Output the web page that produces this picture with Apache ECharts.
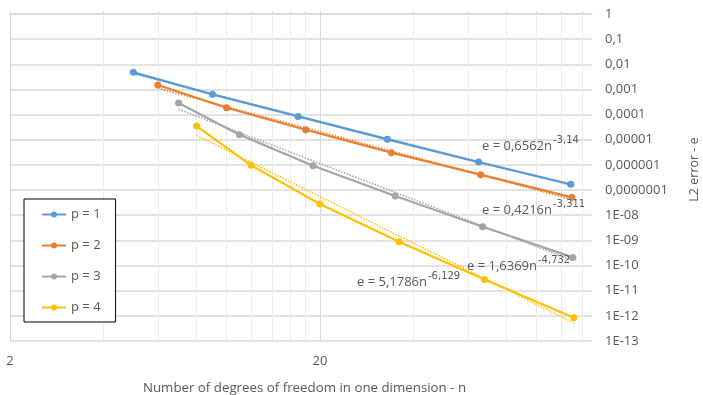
<!DOCTYPE html>
<html>
<head>
<meta charset="utf-8">
<script src="https://cdn.jsdelivr.net/npm/echarts@6/dist/echarts.min.js"></script>
<style>
  html, body { margin: 0; padding: 0; background: #fff; }
  #chart { width: 703px; height: 395px; }
</style>
</head>
<body>
<div id="chart"></div>
<script>
// Convergence of the L2 error against the number of degrees of freedom per dimension
const seriesNames = ['p = 1', 'p = 2', 'p = 3', 'p = 4'];
const colors = ['#5B9BD5', '#ED7D31', '#A5A5A5', '#FFC000'];

const nP1 = [5, 9, 17, 33, 65, 129];
const eP1 = [4.8e-3, 6.4e-4, 8.5e-5, 1.04e-5, 1.3e-6, 1.7e-7];
const nP2 = [6, 10, 18, 34, 66, 130];
const eP2 = [1.5e-3, 1.88e-4, 2.5e-5, 3.06e-6, 4.1e-7, 5.15e-8];
const nP3 = [7, 11, 19, 35, 67, 131];
const eP3 = [2.9e-4, 1.6e-5, 9.3e-7, 5.8e-8, 3.5e-9, 2.1e-10];
const nP4 = [8, 12, 20, 36, 68, 132];
const eP4 = [3.5e-5, 9.6e-7, 2.8e-8, 8.8e-10, 2.8e-11, 8.4e-13];

// Power-law fits e = a * n^b
const fitA = [0.6562, 0.4216, 1.6369, 5.1786];
const fitB = [-3.14, -3.311, -4.732, -6.129];

// Axis ticks
const xLabelValues = [2, 20];
const xGridValues = [2, 4, 6, 8, 10, 12, 14, 16, 18, 20, 40, 60, 80, 100, 120, 140];

const allN = [nP1, nP2, nP3, nP4];
const allE = [eP1, eP2, eP3, eP4];

const FONT = '"Open Sans", "Noto Sans", sans-serif';
const SUP_FONT = '"DejaVu Sans", sans-serif';
const TEXT = '#595959';
const GRID = '#d9d9d9';
const GRID_MINOR = '#ececec';

function fmtNum(v) { return String(v).replace('.', ','); }

function yLabel(v) {
  const k = Math.round(Math.log10(v));
  if (k >= 0) return '1';
  if (k >= -7) return '0,' + '0'.repeat(-k - 1) + '1';
  const m = -k;
  return '1E-' + (m < 10 ? '0' + m : m);
}

const series = [];
for (let i = 0; i < 4; i++) {
  series.push({
    name: seriesNames[i],
    type: 'line',
    data: allN[i].map((n, j) => [n, allE[i][j]]),
    symbol: 'circle',
    symbolSize: 7,
    lineStyle: { color: colors[i], width: 2.25 },
    itemStyle: { color: colors[i] },
    z: 3
  });
}
// Dotted power-law trend lines, spanning each series' n range
for (let i = 0; i < 4; i++) {
  const ns = allN[i];
  const ends = [ns[0], ns[ns.length - 1]];
  series.push({
    name: 'fit ' + seriesNames[i],
    type: 'line',
    data: ends.map(n => [n, fitA[i] * Math.pow(n, fitB[i])]),
    symbol: 'none',
    silent: true,
    lineStyle: { color: colors[i], width: 1.5, type: [1.5, 1.5] },
    z: 2
  });
}

// Fit equation labels: [left x, text centre y]
const fitLabelPos = [[482, 143], [482, 207], [467, 263], [357, 279]];
const graphics = fitLabelPos.map((p, i) => ({
  type: 'text',
  x: p[0],
  y: p[1],
  z: 10,
  style: {
    text: '{a|e = ' + fmtNum(fitA[i]) + 'n}{s|' + fmtNum(fitB[i]) + '}',
    textVerticalAlign: 'middle',
    rich: {
      a: { fontSize: 13, fontFamily: FONT, fill: TEXT, color: TEXT, verticalAlign: 'bottom', lineHeight: 20 },
      s: { fontSize: 10, fontFamily: SUP_FONT, fill: TEXT, color: TEXT, verticalAlign: 'top', lineHeight: 12, padding: [2, 0, 0, 1] }
    }
  }
}));

const chart = echarts.init(document.getElementById('chart'), null, { renderer: 'canvas' });
chart.setOption({
  animation: false,
  backgroundColor: '#fff',
  grid: { left: 10, right: 111, top: 14, bottom: 54, containLabel: false, outerBoundsMode: 'none' },
  legend: {
    data: seriesNames,
    orient: 'vertical',
    left: 24,
    top: 199,
    padding: [9, 15, 8, 17],
    itemGap: 18,
    itemWidth: 24,
    itemHeight: 7.5,
    borderColor: '#000',
    borderWidth: 1,
    backgroundColor: '#fff',
    textStyle: { fontSize: 13, color: TEXT, fontFamily: FONT }
  },
  xAxis: [{
    type: 'log',
    logBase: 10,
    min: 2,
    max: 151,
    name: 'Number of degrees of freedom in one dimension - n',
    nameLocation: 'middle',
    nameGap: 41,
    nameTextStyle: { fontSize: 13.3, color: TEXT, fontFamily: FONT, padding: [0, 0, 0, 7] },
    axisLine: { show: false },
    axisTick: { show: false, customValues: xGridValues },
    axisLabel: { customValues: xLabelValues, fontSize: 13, color: TEXT, fontFamily: FONT, margin: 14 },
    splitLine: {
      show: true,
      lineStyle: { color: [GRID, GRID_MINOR, GRID_MINOR, GRID_MINOR, GRID_MINOR, GRID_MINOR, GRID_MINOR, GRID_MINOR, GRID_MINOR], width: 1 }
    }
  }, {
    // short outward ticks along the top edge
    type: 'log',
    logBase: 10,
    min: 2,
    max: 151,
    position: 'top',
    axisLine: { show: true, lineStyle: { color: GRID, width: 1.5 } },
    axisTick: { show: true, customValues: xGridValues, length: 3, lineStyle: { color: GRID } },
    axisLabel: { show: false },
    splitLine: { show: false }
  }],
  yAxis: {
    type: 'log',
    logBase: 10,
    min: 1e-13,
    max: 1,
    interval: 1,
    position: 'right',
    name: 'L2 error - e',
    nameLocation: 'middle',
    nameRotate: 90,
    nameGap: 96,
    nameTextStyle: { fontSize: 12.5, color: TEXT, fontFamily: FONT, padding: [0, 0, 0, 16] },
    axisLine: { show: false },
    axisTick: { show: false },
    axisLabel: { formatter: yLabel, fontSize: 13, color: TEXT, fontFamily: FONT, margin: 13 },
    splitLine: { show: true, lineStyle: { color: GRID, width: 1.5 } }
  },
  graphic: graphics,
  series: series
});
</script>
</body>
</html>
